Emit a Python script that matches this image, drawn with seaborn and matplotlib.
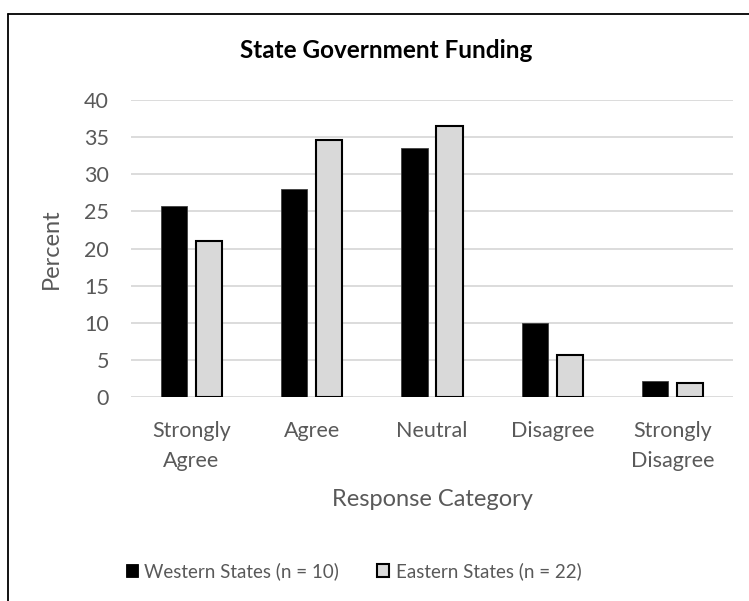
import matplotlib
matplotlib.use("Agg")
import matplotlib.pyplot as plt
from matplotlib.lines import Line2D
from matplotlib.patches import Patch
import seaborn as sns
import pandas as pd

# Survey responses, percent of states in each group
categories = ["Strongly\nAgree", "Agree", "Neutral", "Disagree", "Strongly\nDisagree"]
western = [25.7, 28.0, 33.6, 10.0, 2.1]
eastern = [21.0, 34.6, 36.5, 5.7, 1.9]
groups = ["Western States (n = 10)", "Eastern States (n = 22)"]
y_ticks = [0, 5, 10, 15, 20, 25, 30, 35, 40]

df = pd.DataFrame({
    "category": categories * 2,
    "percent": western + eastern,
    "group": [groups[0]] * len(categories) + [groups[1]] * len(categories),
})

sns.set_theme(style="white")
plt.rcParams["font.family"] = ["Lato", "DejaVu Sans"]

text_grey = "#595959"
grid_grey = "#d9d9d9"

fig = plt.figure(figsize=(7.49, 6.01), dpi=100)
ax = fig.add_axes([0.175, 0.3394, 0.8036, 0.4942])

sns.barplot(
    data=df, x="category", y="percent", hue="group",
    order=categories, hue_order=groups,
    palette={groups[0]: "black", groups[1]: grid_grey},
    width=0.58, gap=0.25, ax=ax, legend=False, zorder=3,
)

# outline styling per series
for bar in ax.containers[0]:
    bar.set_edgecolor("#404040")
    bar.set_linewidth(0.6)
for bar in ax.containers[1]:
    bar.set_edgecolor("black")
    bar.set_linewidth(1.5)

ax.set_ylim(0, 40)
ax.set_yticks(y_ticks)
ax.set_xlim(-0.5, len(categories) - 0.5)
ax.yaxis.grid(True, color=grid_grey, linewidth=1.3, zorder=0)
ax.set_axisbelow(True)
for s in ax.spines.values():
    s.set_visible(False)

ax.tick_params(axis="y", length=0, pad=16, labelsize=15.5, labelcolor=text_grey)
ax.tick_params(axis="x", length=0, pad=17, labelsize=15.5, labelcolor=text_grey)
for lbl in ax.get_xticklabels():
    lbl.set_linespacing(1.65)

ax.set_ylabel("Percent", fontsize=17, color=text_grey, labelpad=16)
ax.set_xlabel("Response Category", fontsize=17, color=text_grey, labelpad=13)

fig.text(0.515, 1 - 58 / 601, "State Government Funding", ha="center", va="baseline",
         fontsize=17.5, fontweight="bold", color="black")

handles = [
    Patch(facecolor="black", edgecolor="black", linewidth=0.6),
    Patch(facecolor=grid_grey, edgecolor="black", linewidth=1.5),
]
fig.legend(handles, groups, loc="center", bbox_to_anchor=(353.5 / 749, 1 - 571 / 601),
           ncol=2, frameon=False, fontsize=13.5, labelcolor=text_grey,
           handlelength=0.65, handleheight=0.65, handletextpad=0.35, columnspacing=2.0)

# outer chart frame
fig.add_artist(Line2D([8 / 749, 8 / 749], [0, 1 - 14 / 601], transform=fig.transFigure,
                      color="black", linewidth=1.3))
fig.add_artist(Line2D([8 / 749, 1], [1 - 14 / 601, 1 - 14 / 601], transform=fig.transFigure,
                      color="black", linewidth=1.3))

fig.savefig("out.png", dpi=100, facecolor="white")
